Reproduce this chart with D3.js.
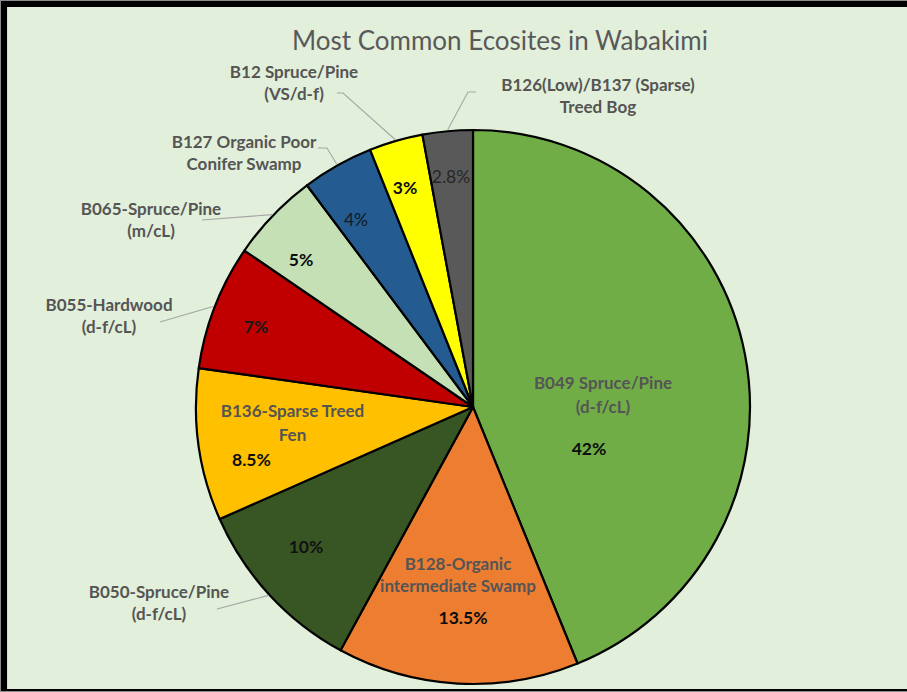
<!DOCTYPE html>
<html>
<head>
<meta charset="utf-8">
<script src="https://cdn.jsdelivr.net/npm/d3@7"></script>
<style>
  html, body { margin: 0; padding: 0; background: #ffffff; }
  svg { display: block; }
  .name { font-family: Lato, "Open Sans", sans-serif; font-weight: 700; fill: #555555; }
  .pct { font-family: Lato, "Open Sans", sans-serif; }
</style>
</head>
<body>
<svg id="chart" width="907" height="692"></svg>
<script>
// Ecosite shares (percent of area), clockwise from 12 o'clock
const categories = [
  "B049 Spruce/Pine (d-f/cL)",
  "B128-Organic intermediate Swamp",
  "B050-Spruce/Pine (d-f/cL)",
  "B136-Sparse Treed Fen",
  "B055-Hardwood (d-f/cL)",
  "B065-Spruce/Pine (m/cL)",
  "B127 Organic Poor Conifer Swamp",
  "B12 Spruce/Pine (VS/d-f)",
  "B126(Low)/B137 (Sparse) Treed Bog"
];
const values = [42, 13.5, 10, 8.5, 7, 5, 4, 3, 2.8];
const valueLabels = ["42%", "13.5%", "10%", "8.5%", "7%", "5%", "4%", "3%", "2.8%"];
// How each category name wraps onto lines
const nameLines = [
  ["B049 Spruce/Pine", "(d-f/cL)"],
  ["B128-Organic", "intermediate Swamp"],
  ["B050-Spruce/Pine", "(d-f/cL)"],
  ["B136-Sparse Treed", "Fen"],
  ["B055-Hardwood", "(d-f/cL)"],
  ["B065-Spruce/Pine", "(m/cL)"],
  ["B127 Organic Poor", "Conifer Swamp"],
  ["B12 Spruce/Pine", "(VS/d-f)"],
  ["B126(Low)/B137 (Sparse)", "Treed Bog"]
];
const sliceColors = ["#70AD47", "#ED7D31", "#375623", "#FFC000", "#C00000", "#C5E0B4", "#245C91", "#FFFF00", "#595959"];
const chartTitle = "Most Common Ecosites in Wabakimi";

// ---- layout ----
const W = 907, H = 692;
const cx = 473, cy = 407, R = 277;

// label placement, offsets from the pie centre
// name: [x, firstBaseline] ; pct: [x, baseline, anchor]; leader: elbow points (outside labels)
const labelSpots = [
  { inside: true,  name: [130, -18], pct: [116, 48, "middle"] },
  { inside: true,  name: [-15, 163], pct: [-10, 217, "middle"] },
  { inside: false, name: [-314, 191], pct: [-167, 146, "middle"], leader: [[-256, 202]] },
  { inside: true,  name: [-180.5, 10], pct: [-241, 59, "start"] },
  { inside: false, name: [-364, -96], pct: [-217, -74, "middle"], leader: [[-313, -85]] },
  { inside: false, name: [-322, -192], pct: [-172, -141, "middle"], leader: [[-271, -187]] },
  { inside: false, name: [-229, -259], pct: [-117, -181, "middle"], leader: [[-155, -259], [-146, -259]] },
  { inside: false, name: [-179, -329], pct: [-68, -213, "middle"], leader: [[-136, -314], [-130, -314]] },
  { inside: false, name: [125, -316], pct: [-22, -224, "middle"], leader: [[3, -315], [-5, -315]] }
];
const pctStyle = [
  { w: 700, c: "#0d0d0d" }, { w: 700, c: "#0d0d0d" }, { w: 700, c: "#111111" },
  { w: 700, c: "#0d0d0d" }, { w: 700, c: "#1a1a1a" }, { w: 700, c: "#0d0d0d" },
  { w: 400, c: "#111a26" }, { w: 700, c: "#0d0d0d" }, { w: 400, c: "#262626" }
];

const svg = d3.select("#chart");

// frame
svg.append("rect").attr("x", 0).attr("y", 0).attr("width", W).attr("height", H).attr("fill", "#8c8c8c");
svg.append("rect").attr("x", 1).attr("y", 1).attr("width", W).attr("height", H - 2).attr("fill", "#000000");
svg.append("rect").attr("x", 7).attr("y", 7).attr("width", W).attr("height", H - 10).attr("fill", "#d5dfcf");
svg.append("rect").attr("x", 8).attr("y", 7).attr("width", W).attr("height", H - 10).attr("fill", "#E2EFDA");

// title
svg.append("text")
  .attr("x", 500).attr("y", 50)
  .attr("text-anchor", "middle")
  .attr("font-family", "Lato, 'Open Sans', sans-serif")
  .attr("font-size", 26)
  .attr("fill", "#595959")
  .text(chartTitle);

const pie = d3.pie().sort(null).value(d => d)
  .startAngle(0).endAngle(2 * Math.PI);
const arcs = pie(values);
const arc = d3.arc().innerRadius(0).outerRadius(R);
const edgeArc = d3.arc().innerRadius(R + 1).outerRadius(R + 1);

const g = svg.append("g").attr("transform", `translate(${cx},${cy})`);

g.selectAll("path.slice")
  .data(arcs)
  .enter().append("path")
  .attr("class", "slice")
  .attr("d", arc)
  .attr("fill", (d, i) => sliceColors[i])
  .attr("stroke", "#000")
  .attr("stroke-width", 2.2)
  .attr("stroke-linejoin", "round");

// leader lines for labels outside the pie
arcs.forEach((d, i) => {
  const s = labelSpots[i];
  if (s.inside) return;
  const pts = s.leader.concat([edgeArc.centroid(d)]);
  g.append("path")
    .attr("d", d3.line()(pts))
    .attr("fill", "none")
    .attr("stroke", "#a6a6a6")
    .attr("stroke-width", 1.1);
});

const nameSize = 17, lineGap = 22;
arcs.forEach((d, i) => {
  const s = labelSpots[i];
  const t = g.append("text")
    .attr("class", "name")
    .attr("text-anchor", "middle")
    .attr("font-size", nameSize);
  nameLines[i].forEach((ln, k) => {
    t.append("tspan")
      .attr("x", s.name[0])
      .attr("y", s.name[1] + k * (i === 0 || i === 3 ? 24 : lineGap))
      .text(ln);
  });
  g.append("text")
    .attr("class", "pct")
    .attr("x", s.pct[0]).attr("y", s.pct[1])
    .attr("text-anchor", s.pct[2])
    .attr("font-size", 17.5)
    .attr("font-weight", pctStyle[i].w)
    .attr("fill", pctStyle[i].c)
    .text(valueLabels[i]);
});
</script>
</body>
</html>
